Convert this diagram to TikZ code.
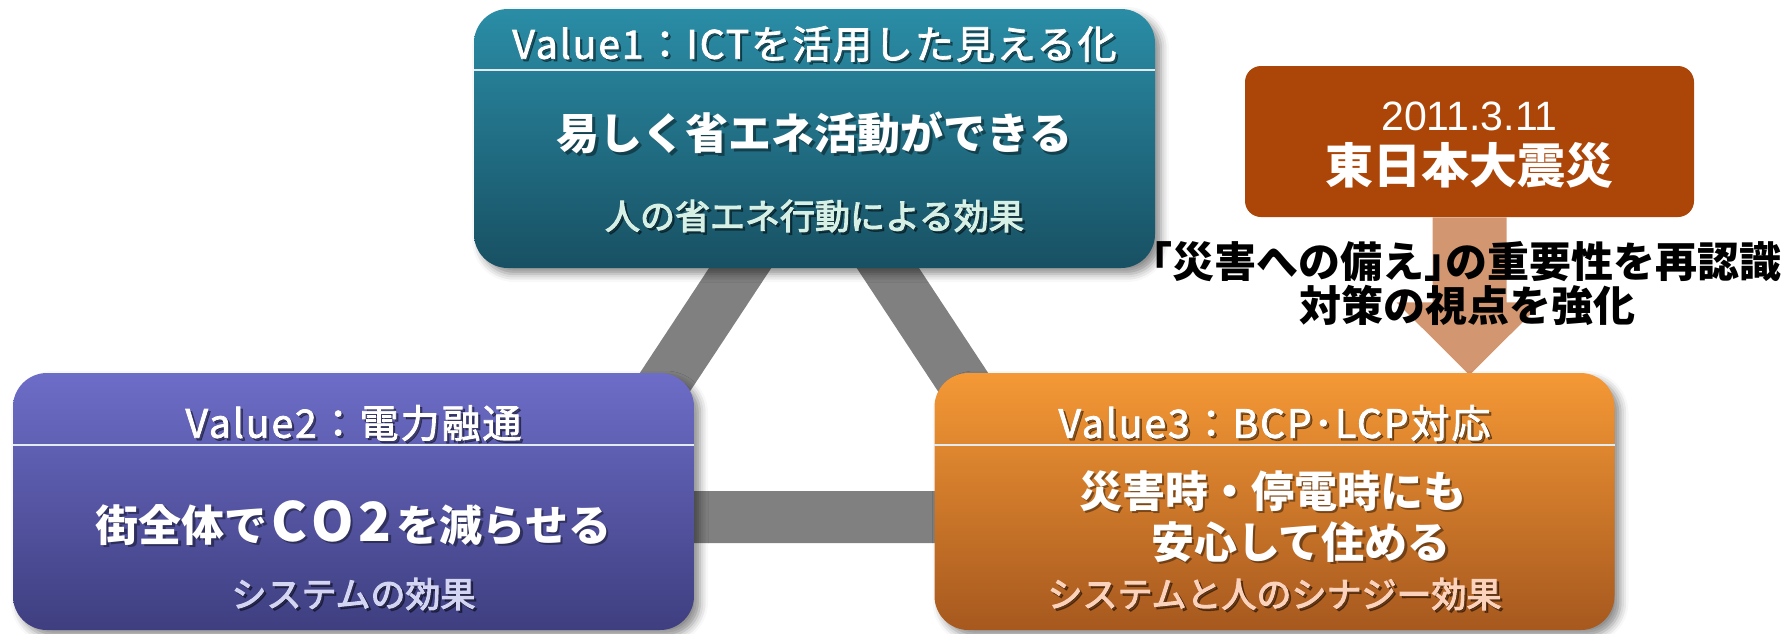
\documentclass[tikz,border=0pt]{standalone}
\usepackage{fontspec}
\setmainfont{Noto Sans CJK JP}
\newfontfamily\arialf{Liberation Sans}
\usetikzlibrary{shadows.blur}
\definecolor{tealT}{RGB}{42,141,166}
\definecolor{tealB}{RGB}{24,80,99}
\definecolor{purT}{RGB}{109,109,200}
\definecolor{purB}{RGB}{62,62,128}
\definecolor{oraT}{RGB}{245,153,54}
\definecolor{oraB}{RGB}{166,88,30}
\definecolor{quakeC}{RGB}{172,70,8}
\definecolor{arrowC}{RGB}{210,150,112}
\definecolor{bandC}{RGB}{128,128,128}
\definecolor{subT}{RGB}{214,240,230}
\definecolor{subP}{RGB}{212,212,243}
\definecolor{subO}{RGB}{251,211,189}
\definecolor{hdrC}{RGB}{225,235,240}
\newcommand\shtxt[4]{%
  \node[#3, text=black, opacity=0.4] (#1s) at ([shift={(1.2pt,-1.2pt)}]#2) {#4};
  \node[#3] (#1) at (#2) {#4};
}
\newcommand\fwl[1]{\makebox[1em][c]{\fontsize{27pt}{27pt}\selectfont #1}}
\begin{document}
\begin{tikzpicture}[x=0.5pt, y=-0.5pt,
  valbox/.style={rounded corners=17pt, inner sep=0pt, draw=none,
    blur shadow={shadow xshift=3pt, shadow yshift=-3pt, shadow blur radius=4pt, shadow opacity=45}},
  ttl/.style={text=white, inner sep=0pt, font=\fontsize{19.5pt}{21pt}\selectfont\addfontfeature{LetterSpace=5,FakeBold=2}},
  mtx/.style={text=white, inner sep=0pt, font=\bfseries\fontsize{21.5pt}{24pt}\selectfont},
  stx/.style={inner sep=0pt, font=\fontsize{17.5pt}{20pt}\selectfont\addfontfeature{FakeBold=3}},
  hdr/.style={draw=hdrC, line width=1pt},
  band/.style={draw=bandC, line width=26pt, line join=miter}]
\useasboundingbox (0,0) rectangle (1783,633);
% gray triangle band
\coordinate (tA) at (814,156);
\coordinate (tB) at (576,517);
\coordinate (tC) at (1052,517);
\draw[band] (tA) -- (tB) -- (tC) -- cycle;
% quake box and arrow
\node[inner sep=0pt, minimum width=224.5pt, minimum height=75.5pt, rounded corners=8pt, fill=quakeC] (quake) at (1469.5,141.5) {};
\coordinate (atip) at (1469.5,375);
\fill[arrowC] ([xshift=-18.5pt]quake.south) -- ([xshift=-18.5pt, yshift=-42.5pt]quake.south)
  -- ([xshift=-36.5pt, yshift=-42.5pt]quake.south) -- (atip)
  -- ([xshift=36.5pt, yshift=-42.5pt]quake.south) -- ([xshift=18.5pt, yshift=-42.5pt]quake.south)
  -- ([xshift=18.5pt]quake.south) -- cycle;
\node[text=white, inner sep=0pt, font=\arialf\fontsize{20.5pt}{22pt}\selectfont] (qdate) at (1469.5,116) {2011.3.11};
\node[text=white, inner sep=0pt, font=\bfseries\fontsize{24pt}{26pt}\selectfont] (qname) at (1469.5,165) {東日本大震災};
% value boxes
\node[valbox, minimum width=340.5pt, minimum height=129.5pt, top color=tealT, bottom color=tealB] (v1) at (814.5,138.5) {};
\node[valbox, minimum width=340.5pt, minimum height=128.5pt, top color=purT, bottom color=purB] (v2) at (353.5,501.5) {};
\node[valbox, minimum width=340pt, minimum height=128.5pt, top color=oraT, bottom color=oraB] (v3) at (1274.5,501.5) {};
\coordinate (h1) at (0,70);
\coordinate (h2) at (0,445);
\draw[hdr] (v1.west |- h1) -- (v1.east |- h1);
\draw[hdr] (v2.west |- h2) -- (v2.east |- h2);
\draw[hdr] (v3.west |- h2) -- (v3.east |- h2);
% box 1 texts
\shtxt{t1}{814.5,44}{ttl}{Value1：ICTを活用した見える化}
\shtxt{m1}{814.5,133}{mtx}{易しく省エネ活動ができる}
\shtxt{s1}{814.5,216}{stx, text=subT}{人の省エネ行動による効果}
% box 2 texts
\shtxt{t2}{353.5,423}{ttl}{Value2：電力融通}
\shtxt{m2}{353.5,523}{mtx}{街全体で\fwl{C}\fwl{O}\fwl{2}を減らせる}
\shtxt{s2}{353.5,594}{stx, text=subP}{システムの効果}
% box 3 texts
\shtxt{t3}{1274.5,423}{ttl}{Value3：BCP･LCP対応}
\shtxt{m3a}{1273,491}{mtx}{災害時・停電時にも}
\shtxt{m3b}{1301,542}{mtx}{安心して住める}
\shtxt{s3}{1274.5,594}{stx, text=subO}{システムと人のシナジー効果}
% black caption
\node[inner sep=0pt, font=\bfseries\fontsize{21pt}{23pt}\selectfont] (c1) at (1466,262) {｢災害への備え｣の重要性を再認識};
\node[inner sep=0pt, font=\bfseries\fontsize{21pt}{23pt}\selectfont] (c2) at (1467,305) {対策の視点を強化};
\end{tikzpicture}
\end{document}
